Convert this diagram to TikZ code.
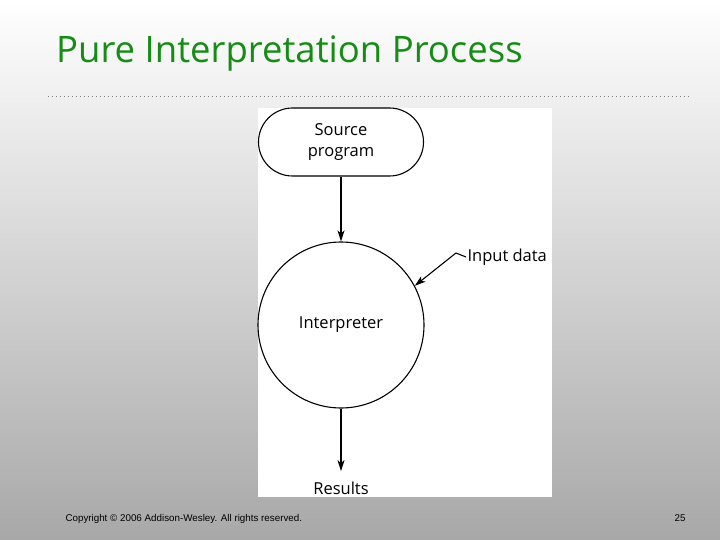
\documentclass[tikz,border=0pt]{standalone}
\usepackage{fontspec}
\setmainfont{Open Sans}
\newfontfamily\footfont{Liberation Sans}
\usetikzlibrary{positioning,arrows.meta}
\definecolor{titlegreen}{RGB}{22,140,22}
\definecolor{slidegray}{RGB}{168,168,168}

\begin{document}
\begin{tikzpicture}[x=1pt, y=-1pt, >={Stealth[length=11pt,width=7pt,inset=3pt]},
  flow/.style={font=\fontsize{16.5}{21}\selectfont, align=center, inner sep=2pt},
  foot/.style={font=\footfont\fontsize{9.8}{12}\selectfont, anchor=base west}]
\useasboundingbox (0,0) rectangle (720,540);
\shade[top color=white, bottom color=slidegray] (0,0) rectangle (720,540);

% title and rule
\node[anchor=base west, font=\fontsize{36.5}{40}\selectfont, text=titlegreen, inner sep=0] (title) at (56,63) {Pure Interpretation Process};
\draw[gray, line width=0.6pt, dash pattern=on 0.6pt off 3.4pt] (48,96) -- (690,96);

% white panel
\fill[white] (258,108) rectangle (552,497);

\begin{scope}[line width=1.1pt]
\node[flow, draw, rounded corners=34, minimum width=165, minimum height=68] (source) at (341,142) {Source\\program};
\node[flow, draw, circle, minimum size=166] (interp) at (341,325) {Interpreter};
\node[flow, anchor=west, inner sep=1pt] (input) at (466,257) {Input data};
\node[flow] (results) at (341,488) {Results};

\coordinate (bend) at (456,253);
\draw[->] (source) -- (interp);
\draw[->] (input.west) -- (bend) -- (interp.28);
\draw[->] (interp) -- ([yshift=8pt]results.north);
\end{scope}

% footer
\node[foot] (copy) at (62,521) {Copyright © 2006 Addison-Wesley. All rights reserved.};
\node[foot, anchor=base east] (page) at (689,521) {25};
\end{tikzpicture}
\end{document}
